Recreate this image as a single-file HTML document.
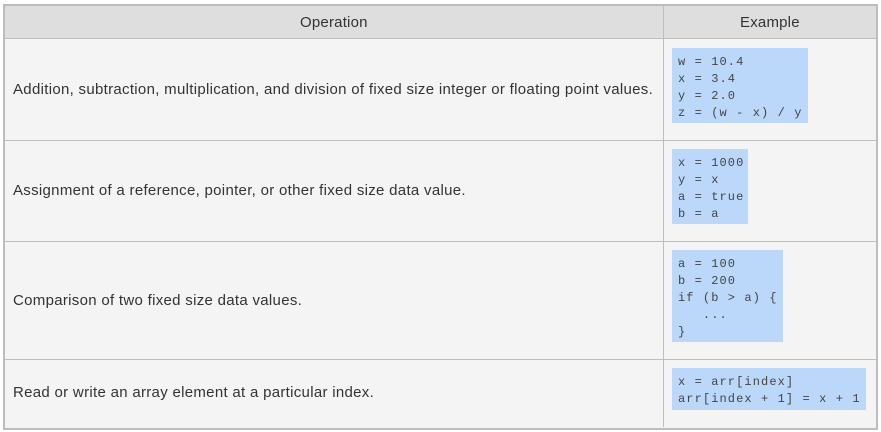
<!DOCTYPE html>
<html><head><style>
body{margin:0;width:881px;height:432px;background:#fff;position:relative;font-family:"Liberation Sans",sans-serif;color:#333;overflow:hidden}
.frame{position:absolute;left:3px;top:4px;width:871px;height:422px;border:2px solid #bdbdbd;background:#f4f4f4}
.hdr{position:absolute;left:5px;top:6px;width:871px;height:33px;background:#dedede;border-bottom:1px solid #bdbdbd;box-sizing:border-box}
.h{position:absolute;top:14px;font-size:15px;color:#333;letter-spacing:0.2px}
.vl{position:absolute;left:663px;top:6px;width:1px;height:421px;background:#bdbdbd}
.hl{position:absolute;left:5px;width:871px;height:1px;background:#bdbdbd}
.t{position:absolute;left:13px;font-size:15px;letter-spacing:0.3px;white-space:nowrap}
.c{position:absolute;left:672px;background:#bbd8fb;font-family:"Liberation Mono",monospace;font-size:12px;letter-spacing:1.1px;line-height:17px;padding:6px 6px 0;box-sizing:border-box;white-space:pre;color:#444}
</style></head><body>
<div class="frame"></div>
<div class="hdr"></div>
<div class="h" style="left:300px">Operation</div>
<div class="h" style="left:740px">Example</div>
<div class="vl"></div>
<div class="hl" style="top:140px"></div>
<div class="hl" style="top:241px"></div>
<div class="hl" style="top:359px"></div>
<div class="t" style="top:81px">Addition, subtraction, multiplication, and division of fixed size integer or floating point values.</div>
<div class="t" style="top:182px">Assignment of a reference, pointer, or other fixed size data value.</div>
<div class="t" style="top:292px">Comparison of two fixed size data values.</div>
<div class="t" style="top:384px">Read or write an array element at a particular index.</div>
<div class="c" style="top:48px;width:136px;height:75px">w = 10.4
x = 3.4
y = 2.0
z = (w - x) / y</div>
<div class="c" style="top:149px;width:76px;height:75px">x = 1000
y = x
a = true
b = a</div>
<div class="c" style="top:250px;width:111px;height:92px">a = 100
b = 200
if (b > a) {
   ...
}</div>
<div class="c" style="top:368px;width:194px;height:42px">x = arr[index]
arr[index + 1] = x + 1</div>
</body></html>
